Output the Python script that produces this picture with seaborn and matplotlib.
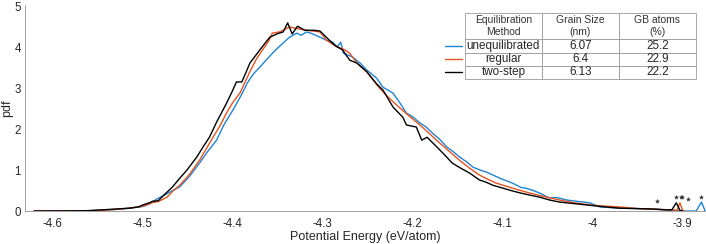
import numpy as np
import pandas as pd
import matplotlib
matplotlib.use('Agg')
import matplotlib.pyplot as plt
import seaborn as sns

# energy (eV/atom) / pdf values
e_blue = [-4.621, -4.58, -4.56, -4.545, -4.53, -4.515, -4.5, -4.492, -4.484, -4.475,
          -4.467, -4.459, -4.448, -4.437, -4.428, -4.418, -4.41, -4.4, -4.39, -4.384,
          -4.377, -4.37, -4.363, -4.356, -4.35, -4.344, -4.337, -4.329, -4.324, -4.318,
          -4.312, -4.303, -4.296, -4.289, -4.284, -4.28, -4.277, -4.267, -4.258, -4.251,
          -4.24, -4.233, -4.222, -4.214, -4.207, -4.2, -4.192, -4.185, -4.178, -4.17,
          -4.162, -4.155, -4.148, -4.14, -4.133, -4.125, -4.118, -4.11, -4.103, -4.096,
          -4.089, -4.08, -4.075, -4.067, -4.059, -4.048, -4.04, -4.029, -4.015, -4.003,
          -3.992, -3.97, -3.95, -3.933, -3.912, -3.9, -3.885, -3.879, -3.875]
p_blue = [0, 0.005, 0.01, 0.02, 0.04, 0.07, 0.11, 0.18, 0.3, 0.4,
          0.5, 0.59, 0.85, 1.17, 1.45, 1.73, 2.1, 2.46, 2.85, 3.12,
          3.35, 3.51, 3.68, 3.85, 3.98, 4.1, 4.24, 4.34, 4.29, 4.37,
          4.33, 4.24, 4.17, 4.12, 4.0, 4.12, 3.85, 3.76, 3.6, 3.44,
          3.24, 3.02, 2.88, 2.63, 2.39, 2.3, 2.15, 2.05, 1.9, 1.75,
          1.56, 1.45, 1.32, 1.2, 1.07, 1.0, 0.95, 0.87, 0.8, 0.74,
          0.68, 0.58, 0.56, 0.51, 0.44, 0.32, 0.33, 0.27, 0.23, 0.2,
          0.1, 0.07, 0.06, 0.05, 0.02, 0.0, 0.0, 0.22, 0.0]

e_orange = [-4.621, -4.58, -4.56, -4.545, -4.53, -4.515, -4.5, -4.49, -4.482, -4.473,
            -4.466, -4.459, -4.448, -4.437, -4.43, -4.422, -4.415, -4.407, -4.4, -4.392,
            -4.381, -4.374, -4.367, -4.36, -4.356, -4.348, -4.337, -4.328, -4.318, -4.303,
            -4.296, -4.284, -4.277, -4.27, -4.262, -4.251, -4.237, -4.226, -4.214, -4.203,
            -4.192, -4.181, -4.17, -4.159, -4.148, -4.137, -4.126, -4.117, -4.107, -4.098,
            -4.089, -4.08, -4.07, -4.055, -4.037, -4.02, -4.0, -3.985, -3.97, -3.95,
            -3.93, -3.915, -3.906, -3.903, -3.9, -3.898]
p_orange = [0, 0.005, 0.01, 0.02, 0.04, 0.07, 0.12, 0.2, 0.24, 0.34,
            0.5, 0.63, 0.9, 1.24, 1.5, 1.8, 2.05, 2.39, 2.65, 2.88,
            3.4, 3.7, 3.93, 4.15, 4.34, 4.37, 4.49, 4.45, 4.41, 4.37,
            4.17, 4.0, 3.95, 3.85, 3.61, 3.39, 3.0, 2.75, 2.51, 2.3,
            2.1, 1.88, 1.66, 1.45, 1.24, 1.05, 0.88, 0.78, 0.68, 0.62,
            0.56, 0.5, 0.44, 0.36, 0.27, 0.2, 0.14, 0.12, 0.1, 0.06,
            0.04, 0.03, 0.02, 0.2, 0.02, 0.0]

e_black = [-4.621, -4.58, -4.56, -4.545, -4.53, -4.515, -4.505, -4.5, -4.493, -4.489,
           -4.483, -4.477, -4.467, -4.459, -4.451, -4.44, -4.432, -4.426, -4.418, -4.407,
           -4.4, -4.396, -4.39, -4.386, -4.381, -4.37, -4.359, -4.35, -4.344, -4.339,
           -4.334, -4.328, -4.32, -4.309, -4.303, -4.296, -4.287, -4.278, -4.27, -4.262,
           -4.251, -4.24, -4.233, -4.222, -4.211, -4.207, -4.196, -4.19, -4.184, -4.173,
           -4.165, -4.156, -4.147, -4.137, -4.126, -4.118, -4.111, -4.1, -4.089, -4.08,
           -4.07, -4.059, -4.048, -4.037, -4.02, -4.007, -3.99, -3.97, -3.95, -3.933,
           -3.918, -3.912, -3.907, -3.903, -3.9]
p_black = [0, 0.005, 0.01, 0.03, 0.05, 0.07, 0.1, 0.15, 0.2, 0.24,
           0.25, 0.38, 0.59, 0.8, 1.0, 1.32, 1.6, 1.8, 2.17, 2.63,
           2.95, 3.15, 3.15, 3.35, 3.61, 3.93, 4.24, 4.33, 4.37, 4.59,
           4.32, 4.51, 4.41, 4.41, 4.39, 4.24, 4.05, 3.93, 3.68, 3.61,
           3.4, 3.1, 2.95, 2.54, 2.29, 2.1, 2.05, 1.73, 1.8, 1.56,
           1.38, 1.17, 1.05, 0.93, 0.76, 0.7, 0.63, 0.56, 0.49, 0.44,
           0.39, 0.34, 0.27, 0.22, 0.18, 0.15, 0.11, 0.07, 0.06, 0.05,
           0.03, 0.03, 0.2, 0.02, 0.0]

# asterisks near the right edge
e_star = [-3.929, -3.907, -3.902, -3.901, -3.894, -3.880]
p_star = [0.24, 0.34, 0.35, 0.34, 0.29, 0.34]

methods = ['unequilibrated', 'regular', 'two-step']
grain_size = ['6.07', '6.4', '6.13']
gb_atoms = ['25.2', '22.9', '22.2']
colors = ['#1f84d4', '#e5531f', '#000000']

sns.set_style('white')
plt.rcParams['font.family'] = ['Liberation Sans', 'DejaVu Sans']

fig = plt.figure(figsize=(7.06, 2.44), dpi=100)
ax = fig.add_axes([0.0354, 0.135, 0.9646, 0.845])

series = [(e_blue, p_blue), (e_orange, p_orange), (e_black, p_black)]
for (e, p), c, m in zip(series, colors, methods):
    df = pd.DataFrame({'E': e, 'pdf': p})
    sns.lineplot(data=df, x='E', y='pdf', color=c, lw=1.0, sort=False,
                 estimator=None, ax=ax, label=m, legend=False)

ax.plot(e_star, p_star, ls='none', marker='*', ms=3, color='#333333', mew=0.3)

ax.set_xlim(-4.631, -3.874)
ax.set_ylim(0, 5.03)
ax.set_xticks([-4.6, -4.5, -4.4, -4.3, -4.2, -4.1, -4.0, -3.9])
ax.set_xticklabels(['-4.6', '-4.5', '-4.4', '-4.3', '-4.2', '-4.1', '-4', '-3.9'])
ax.set_yticks([0, 1, 2, 3, 4, 5])
ax.set_xlabel('Potential Energy (eV/atom)', fontsize=9, color='#262626', labelpad=1)
ax.set_ylabel('pdf', fontsize=9, color='#262626')
ax.yaxis.set_label_coords(-0.017, 0.5)
ax.tick_params(direction='in', length=3, width=0.6, color='#8c8c8c',
               labelsize=8.3, labelcolor='#262626', pad=3)
ax.tick_params(axis='x', pad=5)
for s in ['top', 'right']:
    ax.spines[s].set_visible(False)
for s in ['left', 'bottom']:
    ax.spines[s].set_color('#a0a0a0')
    ax.spines[s].set_linewidth(0.7)

# table legend
cell_text = [[m, g, b] for m, g, b in zip(methods, grain_size, gb_atoms)]
col_labels = ['Equilibration\nMethod', 'Grain Size\n(nm)', 'GB atoms\n(%)']
tab = ax.table(cellText=cell_text, colLabels=col_labels, cellLoc='center',
               bbox=[0.646, 0.641, 0.339, 0.32])
tab.auto_set_font_size(False)
tab.set_fontsize(8.4)
for (r, c), cell in tab.get_celld().items():
    cell.set_edgecolor('#9a9a9a')
    cell.set_linewidth(0.6)
    cell.set_height(2.0 if r == 0 else 1.0)
    cell.PAD = 0.02
    if r == 0:
        cell.get_text().set_fontsize(7.5)
        cell.get_text().set_color('#333333')

for i, c in enumerate(colors):
    y = 0.641 + 0.32 * (2.5 - i) / 5.0
    ax.plot([0.617, 0.641], [y, y], color=c, lw=1.0, transform=ax.transAxes,
            clip_on=False)

fig.savefig('out.png', dpi=100)
